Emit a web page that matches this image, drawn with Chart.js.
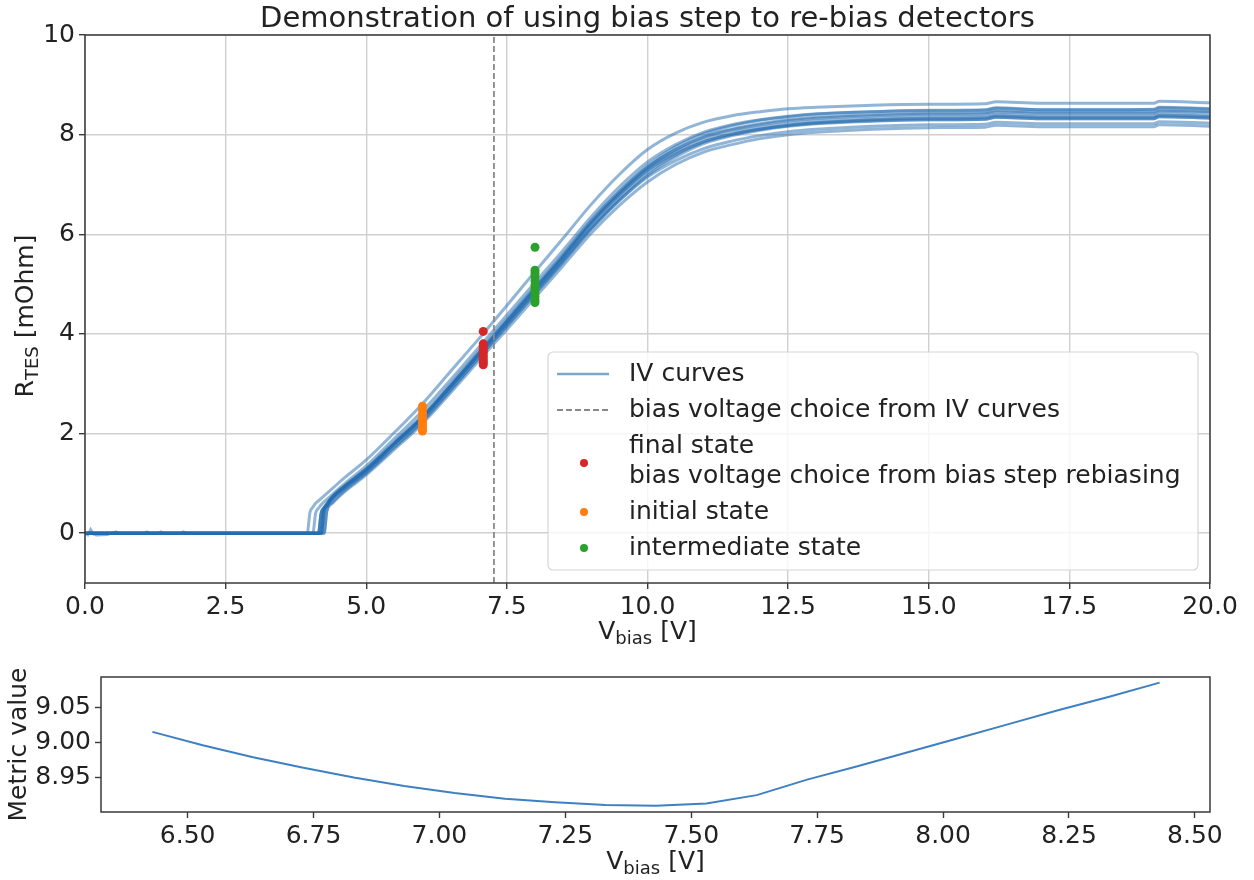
<!DOCTYPE html>
<html>
<head>
<meta charset="utf-8">
<script src="https://cdn.jsdelivr.net/npm/chart.js@4.4.0/dist/chart.umd.min.js"></script>
<style>
  body { margin: 0; background: #fff; }
  #wrap { position: relative; width: 1254px; height: 880px; }
  canvas { position: absolute; left: 0; }
  #ivChart { top: 0; }
  #metricChart { top: 650px; }
</style>
</head>
<body>
<div id="wrap">
  <canvas id="ivChart" width="1254" height="650"></canvas>
  <canvas id="metricChart" width="1254" height="230"></canvas>
</div>
<script>
// ---- data ----
const ivBias = [0, 3.9, 3.95, 4.0, 4.05, 4.1, 4.15, 4.2, 4.25, 4.3, 4.4, 4.6, 5, 5.5, 6, 6.5, 7, 7.5, 8, 8.5,
  9, 9.5, 10, 10.5, 11, 11.5, 12, 12.5, 13, 14, 15, 16, 16.2, 17, 18, 19, 19.1, 20];

const ivOuter = [0, 0, 0, 0.42, 0.52, 0.6, 0.65, 0.7, 0.75, 0.8, 0.9, 1.1, 1.47, 2.02, 2.6, 3.25, 3.9, 4.57, 5.25, 5.92,
  6.6, 7.2, 7.7, 8.03, 8.25, 8.38, 8.46, 8.52, 8.55, 8.59, 8.61, 8.62, 8.66, 8.63, 8.63, 8.63, 8.67, 8.64];
const ivEarly = [0, 0, 0, 0, 0, 0.4, 0.5, 0.57, 0.63, 0.68, 0.78, 0.98, 1.35, 1.9, 2.45, 3.08, 3.73, 4.38, 5.03, 5.68,
  6.35, 6.95, 7.45, 7.8, 8.05, 8.2, 8.3, 8.37, 8.42, 8.46, 8.49, 8.5, 8.54, 8.5, 8.5, 8.51, 8.55, 8.52];
const ivDet3 = [0, 0, 0, 0, 0, 0, 0, 0.42, 0.52, 0.6, 0.74, 0.94, 1.3, 1.83, 2.36, 3.0, 3.65, 4.3, 4.95, 5.6,
  6.28, 6.86, 7.35, 7.7, 7.95, 8.1, 8.2, 8.28, 8.33, 8.38, 8.41, 8.42, 8.46, 8.43, 8.43, 8.43, 8.47, 8.45];
const ivDet4 = [0, 0, 0, 0, 0, 0, 0, 0.4, 0.5, 0.58, 0.72, 0.92, 1.27, 1.8, 2.33, 2.96, 3.6, 4.25, 4.9, 5.55,
  6.22, 6.8, 7.28, 7.62, 7.86, 8.01, 8.11, 8.18, 8.23, 8.28, 8.3, 8.31, 8.35, 8.32, 8.32, 8.32, 8.36, 8.33];
const ivDet5 = [0, 0, 0, 0, 0, 0, 0, 0, 0.45, 0.55, 0.7, 0.9, 1.25, 1.78, 2.3, 2.93, 3.58, 4.22, 4.87, 5.52,
  6.2, 6.78, 7.3, 7.65, 7.9, 8.05, 8.15, 8.23, 8.28, 8.33, 8.36, 8.37, 8.41, 8.38, 8.38, 8.38, 8.42, 8.39];
const ivDet6 = [0, 0, 0, 0, 0, 0, 0, 0, 0.47, 0.57, 0.72, 0.92, 1.28, 1.81, 2.34, 2.97, 3.62, 4.27, 4.93, 5.58,
  6.26, 6.86, 7.38, 7.76, 8.02, 8.18, 8.29, 8.36, 8.41, 8.46, 8.48, 8.49, 8.53, 8.5, 8.5, 8.5, 8.54, 8.51];
const ivDet7 = [0, 0, 0, 0, 0, 0, 0, 0, 0.44, 0.53, 0.68, 0.88, 1.22, 1.74, 2.26, 2.88, 3.52, 4.16, 4.8, 5.44,
  6.1, 6.68, 7.18, 7.55, 7.82, 7.98, 8.09, 8.17, 8.22, 8.27, 8.3, 8.31, 8.35, 8.32, 8.32, 8.32, 8.36, 8.33];
const ivDet8 = [0, 0, 0, 0, 0, 0, 0, 0, 0, 0.45, 0.62, 0.84, 1.2, 1.72, 2.24, 2.87, 3.52, 4.16, 4.81, 5.46,
  6.13, 6.72, 7.23, 7.59, 7.85, 8.0, 8.11, 8.19, 8.24, 8.3, 8.33, 8.34, 8.38, 8.35, 8.35, 8.35, 8.39, 8.36];
const ivDet9 = [0, 0, 0, 0, 0, 0, 0, 0, 0, 0.44, 0.6, 0.82, 1.17, 1.68, 2.2, 2.82, 3.46, 4.09, 4.73, 5.37,
  6.02, 6.58, 7.05, 7.4, 7.65, 7.8, 7.92, 8.0, 8.05, 8.11, 8.14, 8.15, 8.19, 8.16, 8.16, 8.16, 8.2, 8.17];
const ivDet10 = [0, 0, 0, 0, 0, 0, 0, 0, 0.46, 0.56, 0.71, 0.91, 1.26, 1.8, 2.32, 2.95, 3.6, 4.25, 4.9, 5.55,
  6.23, 6.82, 7.33, 7.7, 7.96, 8.11, 8.22, 8.3, 8.35, 8.4, 8.43, 8.44, 8.48, 8.45, 8.45, 8.45, 8.49, 8.46];
const ivDet11 = [0, 0, 0, 0, 0, 0, 0, 0.41, 0.51, 0.59, 0.73, 0.93, 1.28, 1.8, 2.32, 2.94, 3.57, 4.2, 4.84, 5.48,
  6.12, 6.68, 7.15, 7.48, 7.72, 7.87, 7.98, 8.06, 8.11, 8.17, 8.2, 8.21, 8.25, 8.22, 8.22, 8.22, 8.26, 8.23];
const ivCurves = [ivOuter, ivEarly, ivDet3, ivDet4, ivDet5, ivDet6, ivDet7, ivDet8, ivDet9, ivDet10, ivDet11];

// small wiggles on the superconducting branch
const noiseBias = [0, 0.05, 0.1, 0.15, 0.2, 0.4, 0.5, 0.55, 0.6, 1.05, 1.1, 1.15, 1.3, 1.35, 1.4, 1.7, 1.75, 1.8];
const noiseR = [0, -0.04, 0.08, -0.02, -0.04, -0.03, 0.01, 0.03, 0, 0, 0.03, 0, 0, 0.03, 0, 0, 0.03, 0];

const biasChoiceIV = 7.27;

const initialBias = 6.0;
const initialR = [2.55, 2.48, 2.4, 2.33, 2.27, 2.22, 2.17, 2.12, 2.08, 2.05];
const finalBias = 7.08;
const finalR = [4.05, 3.8, 3.75, 3.7, 3.65, 3.6, 3.55, 3.5, 3.46, 3.42, 3.38];
const interBias = 8.0;
const interR = [5.74, 5.28, 5.22, 5.15, 5.06, 4.98, 4.9, 4.82, 4.75, 4.68, 4.63];

const metricBias = [6.43, 6.53, 6.63, 6.73, 6.83, 6.93, 7.03, 7.13, 7.23, 7.33, 7.43,
  7.53, 7.63, 7.73, 7.83, 7.93, 8.03, 8.13, 8.23, 8.33, 8.43];
const metricValue = [9.015, 8.996, 8.979, 8.964, 8.950, 8.938, 8.928, 8.920, 8.915, 8.911, 8.910,
  8.913, 8.925, 8.947, 8.966, 8.986, 9.006, 9.026, 9.046, 9.065, 9.085];

const ivTicksX = [0, 2.5, 5, 7.5, 10, 12.5, 15, 17.5, 20];
const ivTicksY = [0, 2, 4, 6, 8, 10];
const metricTicksX = [6.5, 6.75, 7.0, 7.25, 7.5, 7.75, 8.0, 8.25, 8.5];
const metricTicksY = [8.95, 9.0, 9.05];

// ---- styling ----
const FONT = 'DejaVu Sans';
const TXT = '#222';
const IV_COLOR = 'rgba(35,108,175,0.5)';
Chart.defaults.font.family = FONT;
Chart.defaults.color = TXT;

function pts(xs, ys) {
  return xs.map((x, i) => ({ x: x, y: ys[i] }));
}
function column(x, ys) {
  return ys.map(y => ({ x: x, y: y }));
}

function drawSubText(ctx, main, sub, rest, cx, cy, rotate) {
  ctx.save();
  ctx.translate(cx, cy);
  if (rotate) ctx.rotate(-Math.PI / 2);
  ctx.fillStyle = TXT;
  ctx.textBaseline = 'alphabetic';
  ctx.textAlign = 'left';
  const big = '25px ' + FONT, small = '18px ' + FONT;
  ctx.font = big; const w1 = ctx.measureText(main).width; const w3 = ctx.measureText(rest).width;
  ctx.font = small; const w2 = sub ? ctx.measureText(sub).width : 0;
  let x = -(w1 + w2 + w3) / 2;
  ctx.font = big; ctx.fillText(main, x, 9); x += w1;
  if (sub) { ctx.font = small; ctx.fillText(sub, x, 14); x += w2; }
  ctx.font = big; ctx.fillText(rest, x, 9);
  ctx.restore();
}

function drawFrame(chart) {
  const { ctx, chartArea: a } = chart;
  ctx.save();
  ctx.strokeStyle = '#3a3a3a';
  ctx.lineWidth = 1.5;
  ctx.strokeRect(a.left, a.top, a.right - a.left, a.bottom - a.top);
  ctx.restore();
}

const ivDecor = {
  id: 'ivDecor',
  afterDraw(chart) {
    const { ctx, chartArea: a } = chart;
    drawFrame(chart);
    ctx.save();
    ctx.fillStyle = TXT;
    ctx.font = '29px ' + FONT;
    ctx.textAlign = 'center';
    ctx.textBaseline = 'alphabetic';
    ctx.fillText('Demonstration of using bias step to re-bias detectors', (a.left + a.right) / 2, 27);
    ctx.restore();
    drawSubText(ctx, 'V', 'bias', ' [V]', (a.left + a.right) / 2, 630, false);
    drawSubText(ctx, 'R', 'TES', ' [mOhm]', 24, 316, true);

    // legend
    const L = 548, T = 352, R = 1198, B = 570;
    ctx.save();
    ctx.beginPath();
    ctx.roundRect(L, T, R - L, B - T, 5);
    ctx.fillStyle = 'rgba(255,255,255,0.8)';
    ctx.fill();
    ctx.strokeStyle = '#d6d6d6';
    ctx.lineWidth = 1.2;
    ctx.stroke();
    ctx.font = '25px ' + FONT;
    ctx.fillStyle = TXT;
    ctx.textAlign = 'left';
    ctx.textBaseline = 'middle';
    const tx = 629, hx0 = 557, hx1 = 609, hc = 584;
    ctx.strokeStyle = 'rgba(35,108,175,0.6)'; ctx.lineWidth = 2.5;
    ctx.beginPath(); ctx.moveTo(hx0, 374); ctx.lineTo(hx1, 374); ctx.stroke();
    ctx.fillText('IV curves', tx, 374);
    ctx.strokeStyle = '#888'; ctx.lineWidth = 1.8; ctx.setLineDash([6, 3]);
    ctx.beginPath(); ctx.moveTo(hx0, 410); ctx.lineTo(hx1, 410); ctx.stroke();
    ctx.setLineDash([]);
    ctx.fillText('bias voltage choice from IV curves', tx, 410);
    const dot = (y, c) => { ctx.fillStyle = c; ctx.beginPath(); ctx.arc(hc, y, 4, 0, Math.PI * 2); ctx.fill(); };
    dot(463, '#d62728'); dot(512, '#ff7f0e'); dot(548, '#2ca02c');
    ctx.fillStyle = TXT;
    ctx.fillText('final state', tx, 446);
    ctx.fillText('bias voltage choice from bias step rebiasing', tx, 476);
    ctx.fillText('initial state', tx, 512);
    ctx.fillText('intermediate state', tx, 548);
    ctx.restore();
  }
};

const metricDecor = {
  id: 'metricDecor',
  afterDraw(chart) {
    const { ctx, chartArea: a } = chart;
    drawFrame(chart);
    drawSubText(ctx, 'V', 'bias', ' [V]', (a.left + a.right) / 2, 210, false);
    drawSubText(ctx, 'Metric value', '', '', 17, (a.top + a.bottom) / 2, true);
  }
};

const tickFont = { family: FONT, size: 25 };

// ---- top chart ----
const ivDatasets = ivCurves.map(r => ({
  type: 'line',
  data: pts(ivBias, r),
  borderColor: IV_COLOR,
  borderWidth: 3,
  pointRadius: 0,
  cubicInterpolationMode: 'monotone',
  order: 3
}));
ivDatasets.push({
  type: 'line', data: pts(noiseBias, noiseR), borderColor: IV_COLOR,
  borderWidth: 2.5, pointRadius: 0, order: 3
});
ivDatasets.push({
  type: 'line', data: [{ x: biasChoiceIV, y: -1 }, { x: biasChoiceIV, y: 10 }],
  borderColor: '#8a8a8a', borderWidth: 1.8, borderDash: [6, 3], pointRadius: 0, order: 2
});
[[finalBias, finalR, '#d62728'], [initialBias, initialR, '#ff7f0e'], [interBias, interR, '#2ca02c']].forEach(s => {
  ivDatasets.push({
    type: 'scatter', data: column(s[0], s[1]), backgroundColor: s[2],
    borderWidth: 0, pointRadius: 4.5, order: 1
  });
});

new Chart(document.getElementById('ivChart'), {
  type: 'line',
  data: { datasets: ivDatasets },
  options: {
    responsive: false,
    animation: false,
    devicePixelRatio: 1,
    layout: { padding: { top: 35, right: 44, left: 0, bottom: 0 } },
    plugins: { legend: { display: false }, tooltip: { enabled: false } },
    scales: {
      x: {
        type: 'linear', min: 0, max: 20,
        afterBuildTicks: s => { s.ticks = ivTicksX.map(v => ({ value: v })); },
        afterFit: s => { s.height = 67; },
        ticks: { font: tickFont, color: TXT, padding: 3, maxRotation: 0, callback: v => v.toFixed(1) },
        grid: { color: '#d0d0d0', lineWidth: 1.4, tickLength: 6, tickColor: '#3a3a3a', tickWidth: 1.4 },
        border: { display: false }
      },
      y: {
        type: 'linear', min: -1, max: 10,
        afterBuildTicks: s => { s.ticks = ivTicksY.map(v => ({ value: v })); },
        afterFit: s => { s.width = 85; },
        ticks: { font: tickFont, color: TXT, padding: 4, callback: v => String(v) },
        grid: { color: '#d0d0d0', lineWidth: 1.4, tickLength: 6, tickColor: '#3a3a3a', tickWidth: 1.4 },
        border: { display: false }
      }
    }
  },
  plugins: [ivDecor]
});

// ---- bottom chart ----
new Chart(document.getElementById('metricChart'), {
  type: 'line',
  data: {
    datasets: [{
      data: pts(metricBias, metricValue),
      borderColor: '#3f80c2',
      borderWidth: 2,
      pointRadius: 0,
      tension: 0
    }]
  },
  options: {
    responsive: false,
    animation: false,
    devicePixelRatio: 1,
    layout: { padding: { top: 27, right: 44, left: 0, bottom: 0 } },
    plugins: { legend: { display: false }, tooltip: { enabled: false } },
    scales: {
      x: {
        type: 'linear', min: 6.328, max: 8.53,
        afterBuildTicks: s => { s.ticks = metricTicksX.map(v => ({ value: v })); },
        afterFit: s => { s.height = 68; },
        ticks: { font: tickFont, color: TXT, padding: 3, maxRotation: 0, callback: v => v.toFixed(2) },
        grid: { drawOnChartArea: false, tickLength: 6, tickColor: '#3a3a3a', tickWidth: 1.4 },
        border: { display: false }
      },
      y: {
        type: 'linear', min: 8.901, max: 9.093,
        afterBuildTicks: s => { s.ticks = metricTicksY.map(v => ({ value: v })); },
        afterFit: s => { s.width = 101; },
        ticks: { font: tickFont, color: TXT, padding: 4, callback: v => v.toFixed(2) },
        grid: { drawOnChartArea: false, tickLength: 6, tickColor: '#3a3a3a', tickWidth: 1.4 },
        border: { display: false }
      }
    }
  },
  plugins: [metricDecor]
});
</script>
</body>
</html>
